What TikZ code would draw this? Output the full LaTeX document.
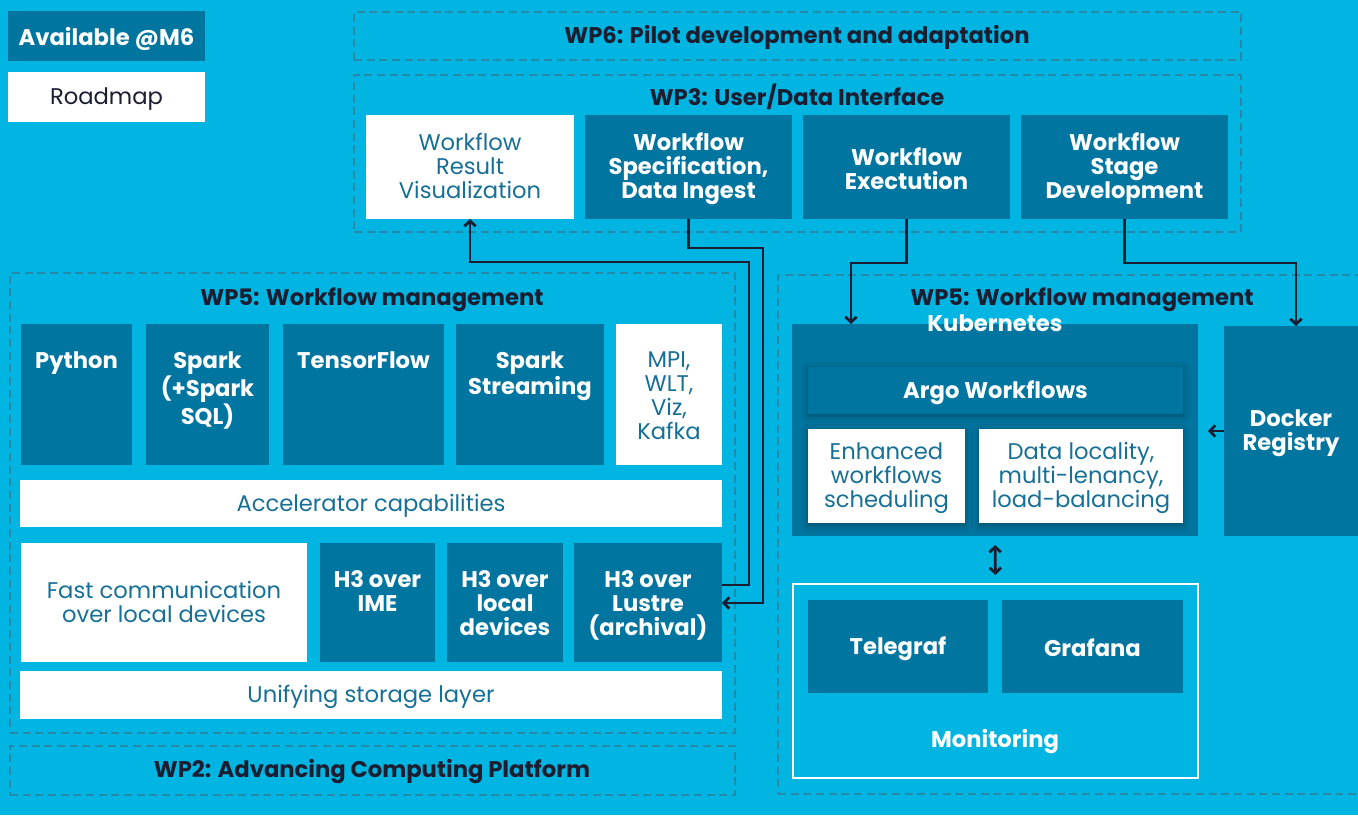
\documentclass[tikz,border=0pt]{standalone}
\usepackage{fontspec}
\setmainfont{Poppins}
\usetikzlibrary{fit,arrows.meta,shadows.blur,calc}
\definecolor{bgc}{HTML}{00B5E2}
\definecolor{dkc}{HTML}{00759F}
\definecolor{tealc}{HTML}{167096}
\definecolor{navyc}{HTML}{1B1D30}
\definecolor{dashc}{HTML}{2589A8}
\newcommand{\fs}{\fontsize{17pt}{18pt}\selectfont}
\begin{document}
\begin{tikzpicture}[x=0.75pt,y=-0.75pt,
  box/.style={inner sep=0pt, outer sep=0pt, draw=none},
  dk/.style={box, fill=dkc},
  lt/.style={box, fill=white},
  dsh/.style={box, draw=dashc, line width=0.8pt, dash pattern=on 6pt off 3.5pt},
  lab/.style={inner sep=0pt, outer sep=0pt, align=center, font=\fs, yshift=-1.5pt},
  wlab/.style={lab, text=white, font=\fs\bfseries},
  tlab/.style={lab, text=tealc},
  ttl/.style={lab, font=\fs\bfseries, text=navyc},
  conn/.style={draw=navyc, line width=2.1pt, -{Straight Barb[length=4pt,width=8.5pt]}},
  shd/.style={blur shadow={shadow blur radius=5pt, shadow xshift=0pt, shadow yshift=-1.5pt, shadow opacity=35}}
]
\clip (0,0) rectangle (1358,815);
\fill[bgc] (0,0) rectangle (1358,815);

% legend
\node[dk, fit={(8,11)(205,61)}] (avail) {};
\node[wlab, yshift=-0.75pt] (availt) at (avail.center) {Available @M6};
\node[lt, fit={(8,72)(205,122)}] (road) {};
\node[lab, text=navyc] (roadt) at (road.center) {Roadmap};

% WP6 and WP3
\node[dsh, fit={(354,12)(1241,60)}] (wp6) {};
\node[ttl] (wp6t) at (797,35) {WP6: Pilot development and adaptation};
\node[dsh, fit={(354,75)(1241,232)}] (wp3) {};
\node[ttl, yshift=1.5pt] (wp3t) at (797,97) {WP3: User/Data Interface};
\node[lt, fit={(366,115)(574,219)}] (vis) {};
\node[tlab, yshift=2.2pt] (vist) at (vis.center) {Workflow\\Result\\Visualization};
\node[dk, fit={(585,115)(792,219)}] (spec) {};
\node[wlab] (spect) at (spec.center) {Workflow\\Specification,\\Data Ingest};
\node[dk, fit={(803,115)(1010,219)}] (exec) {};
\node[wlab] (exect) at (exec.center) {Workflow\\Exectution};
\node[dk, fit={(1021,115)(1228,219)}] (stage) {};
\node[wlab] (staget) at (stage.center) {Workflow\\Stage\\Development};

% left WP5
\node[dsh, fit={(10,273)(735,733)}] (wp5l) {};
\node[ttl] (wp5lt) at (372,298) {WP5: Workflow management};
\node[dk, fit={(21,324)(132,465)}] (python) {};
\node[wlab, anchor=north, yshift=0pt] (pythont) at (python.north |- 0,350) {Python};
\node[dk, fit={(146,324)(269,465)}] (spark) {};
\node[wlab, anchor=north, yshift=0pt] (sparkt) at (spark.north |- 0,350) {Spark\\(+Spark\\SQL)};
\node[dk, fit={(283,324)(444,465)}] (tf) {};
\node[wlab, anchor=north, yshift=0pt] (tft) at (tf.north |- 0,350) {TensorFlow};
\node[dk, fit={(456,324)(604,465)}] (sstream) {};
\node[wlab, anchor=north, yshift=0pt] (sstreamt) at (sstream.north |- 0,350) {Spark\\Streaming};
\node[lt, fit={(616,324)(722,465)}] (mpi) {};
\node[tlab, anchor=north, yshift=0pt] (mpit) at (mpi.north |- 0,350) {MPI,\\WLT,\\Viz,\\Kafka};
\node[lt, fit={(20,480)(722,527)}] (accel) {};
\node[tlab] (accelt) at (accel.center) {Accelerator capabilities};
\node[lt, fit={(21,543)(307,662)}] (fast) {};
\node[tlab, yshift=2.2pt] (fastt) at (fast.center) {Fast communication\\over local devices};
\node[dk, fit={(320,543)(435,662)}] (ime) {};
\node[wlab, anchor=north, yshift=0pt] (imet) at (ime.north |- 0,569) {H3 over\\IME};
\node[dk, fit={(447,543)(563,662)}] (local) {};
\node[wlab, anchor=north, yshift=0pt] (localt) at (local.north |- 0,569) {H3 over\\local\\devices};
\node[dk, fit={(574,543)(722,662)}] (lustre) {};
\node[wlab, anchor=north, yshift=0pt] (lustret) at (lustre.north |- 0,569) {H3 over\\Lustre\\(archival)};
\node[lt, fit={(20,671)(722,719)}] (unify) {};
\node[tlab] (unifyt) at (unify.center) {Unifying storage layer};
\node[dsh, fit={(10,746)(735,795)}] (wp2) {};
\node[ttl] (wp2t) at (372,770) {WP2: Advancing Computing Platform};

% right WP5
\node[dsh, fit={(778,275)(1400,794)}] (wp5r) {};
\node[ttl] (wp5rt) at (1082,298) {WP5: Workflow management};
\node[dk, fit={(792,324)(1198,536)}] (kube) {};
\node[wlab, yshift=0pt] (kubet) at (995,321) {Kubernetes};
\node[dk, fit={(808,367)(1183,414)}, shd] (argo) {};
\node[wlab] (argot) at (argo.center) {Argo Workflows};
\node[lt, fit={(808,429)(965,523)}, shd] (enh) {};
\node[tlab] (enht) at (enh.center) {Enhanced\\workflows\\scheduling};
\node[lt, fit={(979,429)(1183,523)}, shd] (loc) {};
\node[tlab] (loct) at (loc.center) {Data locality,\\multi-lenancy,\\load-balancing};
\node[dk, fit={(1224,326)(1358,536)}] (docker) {};
\node[wlab] (dockert) at (docker.center) {Docker\\Registry};
\node[box, draw=white, line width=1.2pt, fit={(793,584)(1198,778)}] (mon) {};
\node[dk, fit={(808,600)(988,693)}] (tele) {};
\node[wlab] (telet) at (tele.center) {Telegraf};
\node[dk, fit={(1002,600)(1183,693)}] (graf) {};
\node[wlab, yshift=0.75pt] (graft) at (graf.center) {Grafana};
\node[wlab] (mont) at (995,740) {Monitoring};

% connectors
\draw[conn] (spec.south) -- (spec.south |- 0,248) -- (763,248) -- (763,603) -- (lustre.east |- 0,603);
\draw[conn] (lustre.east |- 0,585) -- (749,585) -- (749,262) -- (vis.south |- 0,262) -- (vis.south);
\draw[conn] (exec.south) -- (exec.south |- 0,263) -- (851,263) -- (kube.north -| 851,0);
\draw[conn] (stage.south) -- (stage.south |- 0,263) -- (1296,263) -- (docker.north -| 1296,0);
\coordinate (kin) at ([xshift=7.5pt]kube.east |- docker.west);
\draw[conn] (docker.west) -- (kin);
\draw[conn, {Straight Barb[length=4pt,width=8.5pt]}-{Straight Barb[length=4pt,width=8.5pt]}, shorten <=6.75pt, shorten >=6.75pt] (kube.south) -- (mon.north);
\end{tikzpicture}
\end{document}
